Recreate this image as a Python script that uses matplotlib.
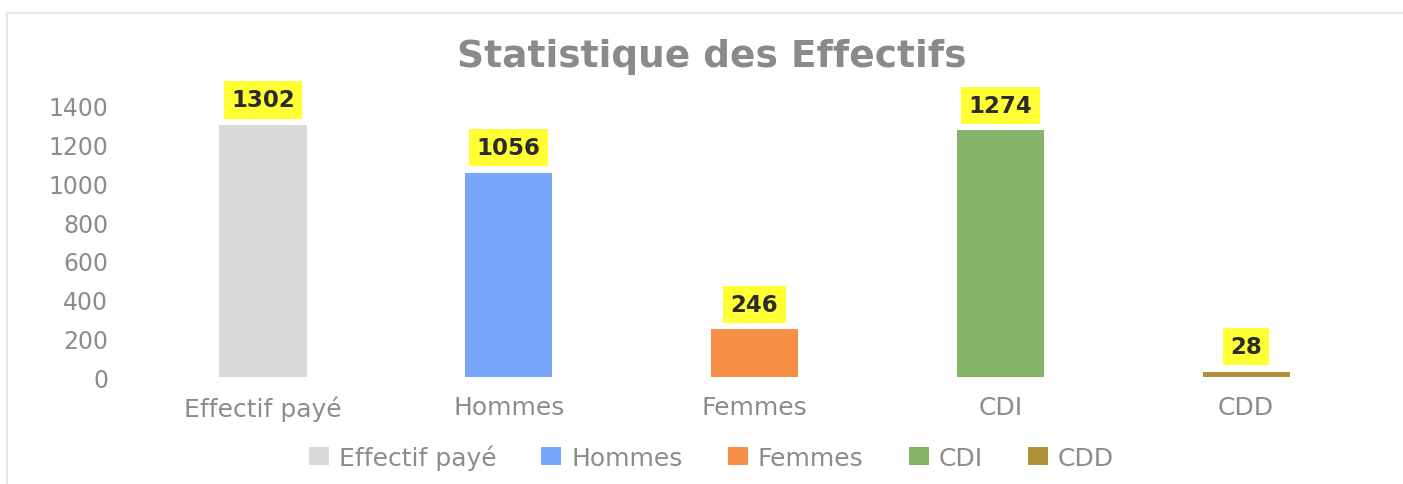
import numpy as np
import matplotlib
matplotlib.use('Agg')
import matplotlib.pyplot as plt
from matplotlib.lines import Line2D

categories = ['Effectif payé', 'Hommes', 'Femmes', 'CDI', 'CDD']
values = [1302, 1056, 246, 1274, 28]
colors = ['#d9d9d9', '#78a6f8', '#f79046', '#86b36a', '#b0923a']
yticks = [0, 200, 400, 600, 800, 1000, 1200, 1400]

plt.rcParams['font.family'] = ['DejaVu Sans']

fig = plt.figure(figsize=(14.03, 4.85), dpi=100)
ax = fig.add_axes([0.0998, 0.2206, 0.876, 0.5588])

x = np.arange(len(categories))
for i in range(len(categories)):
    ax.bar(x[i], values[i], width=0.355, color=colors[i], label=categories[i])
    ax.annotate(str(values[i]), (x[i], values[i]), xytext=(0, 18),
                textcoords='offset points', ha='center', va='center',
                fontsize=16.5, fontweight='bold', color='#2b2b2b',
                bbox=dict(boxstyle='square,pad=0.32', fc='#ffff33', ec='none'))

ax.set_xlim(-0.5, len(categories) - 0.5)
ax.set_ylim(0, 1400)
ax.set_yticks(yticks)
ax.set_xticks(x)
ax.set_xticklabels(categories)
ax.tick_params(axis='y', length=0, pad=23, labelsize=17, labelcolor='#8c8c8c')
ax.tick_params(axis='x', length=0, pad=13, labelsize=18, labelcolor='#8c8c8c')
for s in ax.spines.values():
    s.set_visible(False)

fig.text(0.507, 1 - 57 / 485, 'Statistique des Effectifs', ha='center', va='center',
         fontsize=27, fontweight='bold', color='#8a8a8a')

fig.legend(loc='center', bbox_to_anchor=(0.507, 1 - 458 / 485), ncol=5,
           frameon=False, fontsize=18, labelcolor='#8c8c8c',
           handlelength=0.8, handleheight=0.7, handletextpad=0.4, columnspacing=1.8)

# chart frame (top and left edges visible)
fig.add_artist(Line2D([7 / 1403, 1], [1 - 14 / 485, 1 - 14 / 485], color='#e6e6e6', lw=1.5))
fig.add_artist(Line2D([7 / 1403, 7 / 1403], [0, 1 - 14 / 485], color='#e6e6e6', lw=1.5))

fig.savefig('out.png', dpi=100, facecolor='white')
